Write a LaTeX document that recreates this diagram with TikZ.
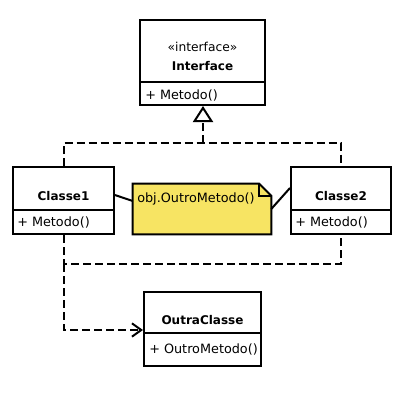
\documentclass[tikz,border=0pt]{standalone}
\usepackage{fontspec}
\setmainfont{DejaVu Sans}
\usetikzlibrary{arrows.meta}
\definecolor{notefill}{RGB}{247,228,99}
\begin{document}
\begin{tikzpicture}[x=0.75pt,y=-0.75pt,
  every node/.style={font=\fontsize{9.6}{11}\selectfont},
  box/.style={draw=black,line width=1.5pt,fill=white,rectangle,inner sep=0pt},
  lbl/.style={inner sep=0pt,anchor=west},
  ttl/.style={inner sep=0pt,font=\fontsize{9}{11}\selectfont\bfseries},
  dep/.style={line width=1.5pt,dash pattern=on 6pt off 3pt},
  lnk/.style={line width=1.5pt}]
\useasboundingbox (0,0) rectangle (400,411);
% boxes
\node[box,minimum width=93.75pt,minimum height=63.75pt] (iface) at (202.5,62.5) {};
\node[box,minimum width=75.75pt,minimum height=50.25pt] (c1) at (63.5,200.5) {};
\node[box,minimum width=75pt,minimum height=50.25pt] (c2) at (341,200.5) {};
\node[box,minimum width=87.75pt,minimum height=55.5pt] (oc) at (202.5,329) {};
\node[inner sep=0pt,minimum width=103.5pt,minimum height=37.5pt] (note) at (202,209) {};
% dividers
\draw[lnk] (140,82) -- (265,82);
\draw[lnk] (13,210) -- (114,210);
\draw[lnk] (291,210) -- (391,210);
\draw[lnk] (144,333) -- (261,333);
% note shape
\draw[lnk,fill=notefill,line join=miter] (note.north west) -- ([xshift=-9pt]note.north east) -- ([yshift=-9pt]note.north east) -- (note.south east) -- (note.south west) -- cycle;
\draw[lnk,line join=miter] ([xshift=-9pt]note.north east) -- ([xshift=-9pt,yshift=-9pt]note.north east) -- ([yshift=-9pt]note.north east);
% texts
\node[inner sep=0pt,font=\fontsize{9.2}{11}\selectfont] (st) at (202.5,47) {«interface»};
\node[ttl] (it) at (202.5,66) {Interface};
\node[lbl] (im) at (145,95) {+ Metodo()};
\node[ttl] (t1) at (63.5,196) {Classe1};
\node[lbl] (m1) at (17,222) {+ Metodo()};
\node[ttl] (t2) at (341,196) {Classe2};
\node[lbl] (m2) at (295,222) {+ Metodo()};
\node[ttl] (to) at (202.5,320) {OutraClasse};
\node[lbl] (mo) at (149,349) {+ OutroMetodo()};
\node[lbl] (nt) at (137,199) {obj.OutroMetodo()};
% realization
\coordinate (j) at (203,143);
\draw[dep] (c1.north) |- (j) -| (c2.north);
\draw[dep,-{Triangle[open,length=12pt,width=15pt,line width=1.5pt]}] (j) -- (iface.south -| j);
% dependency
\coordinate (k) at (64,264);
\draw[dep] (c1.south -| k) |- (264,264) -| (c2.south);
\draw[dep,-{Straight Barb[length=7pt,width=10pt,line width=1.5pt]}] (k) |- ([yshift=-0.75pt]oc.west);
% note links
\draw[lnk] ([yshift=4.1pt]c1.east) -- ([yshift=6pt]note.west);
\draw[lnk] ([yshift=9.4pt]c2.west) -- (note.east);
\end{tikzpicture}
\end{document}
